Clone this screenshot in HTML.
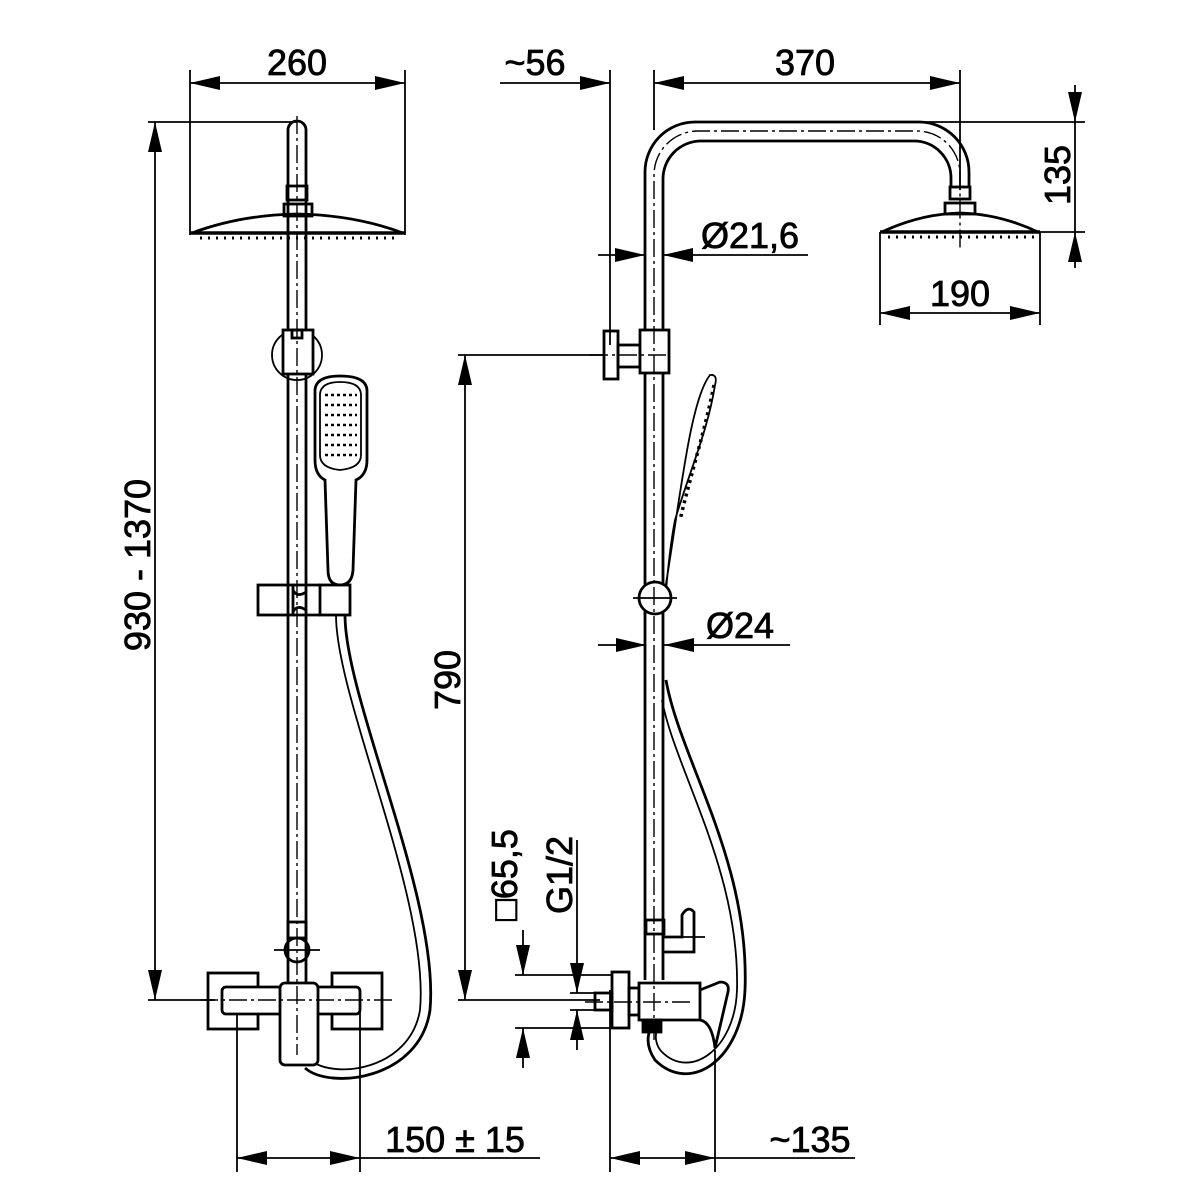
<!DOCTYPE html>
<html><head><meta charset="utf-8"><style>html,body{margin:0;padding:0;background:#fff}svg{display:block}text{font-family:"Liberation Sans",Arial,sans-serif;font-size:36px;fill:#000;stroke:#000;stroke-width:0.8px}</style></head><body>
<svg width="1200" height="1200" viewBox="0 0 1200 1200" xmlns="http://www.w3.org/2000/svg">
<defs>
<marker id="a" viewBox="0 0 30 14" refX="30" refY="7" markerWidth="30" markerHeight="14" markerUnits="userSpaceOnUse" orient="auto"><path d="M0,0L30,7L0,14z" fill="#000"/></marker>
</defs>
<g stroke="#000" fill="none" stroke-width="1.8">
<line x1="190" y1="70" x2="190" y2="235"/><line x1="405" y1="70" x2="405" y2="235"/>
<line x1="297" y1="83" x2="190" y2="83" marker-end="url(#a)"/><line x1="297" y1="83" x2="405" y2="83" marker-end="url(#a)"/>
<line x1="148" y1="122" x2="297" y2="122"/><line x1="148" y1="1000" x2="215" y2="1000"/>
<line x1="155" y1="560" x2="155" y2="122" marker-end="url(#a)"/><line x1="155" y1="560" x2="155" y2="1000" marker-end="url(#a)"/>
<line x1="237" y1="990" x2="237" y2="1172"/><line x1="360" y1="990" x2="360" y2="1172"/>
<line x1="300" y1="1158" x2="237" y2="1158" marker-end="url(#a)"/><line x1="300" y1="1158" x2="360" y2="1158" marker-end="url(#a)"/><line x1="360" y1="1158" x2="540" y2="1158"/>
<g stroke-width="2.8">
<path d="M288,1000 V130 A9,9 0 0 1 306,130 V985"/>
<rect x="287" y="186" width="20" height="14"/>
<rect x="284" y="204" width="28" height="12"/>
<path d="M192,233 Q240,215 297,214 Q355,215 403,233 Z"/>
<line x1="190" y1="233" x2="405" y2="233" stroke-width="3.5"/>
<circle cx="297" cy="355" r="25" stroke-width="1.8"/>
<rect x="283" y="330" width="30" height="44" fill="#fff"/>
<rect x="292" y="330" width="10" height="8"/>
<path d="M315,390 Q316,376 340,376 Q366,376 367,390 V460 Q367,475 356,480 L353,570 Q352,585 340,585 Q328,585 328,570 L325,480 Q315,475 315,460 Z"/>
<path d="M320,394 Q321,382 340,382 Q360,382 361,394 V455 Q361,468 340,470 Q320,468 320,455 Z" stroke-width="1.8"/>
<rect x="258" y="585" width="35" height="30"/><rect x="320" y="585" width="30" height="30"/>
<path d="M293,590 Q297,598 306,592 M293,612 Q297,604 306,610"/>
<line x1="293" y1="585" x2="320" y2="585"/><line x1="293" y1="615" x2="320" y2="615"/>
<path d="M345,615 C345,700 440,900 430,1010 C420,1080 330,1090 305,1068"/>
<path d="M336,615 C336,700 430,900 420,1010 C410,1070 335,1080 310,1060" stroke-width="1.8"/>
<rect x="288" y="922" width="18" height="16"/>
<circle cx="297" cy="950" r="12"/>
<rect x="208" y="973" width="50" height="56"/><rect x="332" y="973" width="50" height="56"/>
<rect x="222" y="987" width="138" height="27" rx="4" fill="#fff"/>
<rect x="280" y="983" width="38" height="82" rx="5" fill="#fff"/>
</g>
<g stroke-width="1.4" stroke-dasharray="18,4,3,4">
<line x1="297" y1="116" x2="297" y2="1055"/>
<line x1="200" y1="1000" x2="395" y2="1000"/>
</g>
<line x1="274" y1="950" x2="320" y2="950"/>
<g stroke-width="3" stroke-dasharray="2,6"><line x1="200" y1="238" x2="396" y2="238"/></g>
<g stroke-width="2.5" stroke-dasharray="3,3"><line x1="325" y1="395" x2="357" y2="395"/><line x1="325" y1="405" x2="357" y2="405"/><line x1="325" y1="415" x2="357" y2="415"/><line x1="325" y1="425" x2="357" y2="425"/><line x1="325" y1="435" x2="357" y2="435"/><line x1="325" y1="445" x2="357" y2="445"/><line x1="325" y1="455" x2="357" y2="455"/></g>
<line x1="500" y1="83" x2="610" y2="83" marker-end="url(#a)"/>
<line x1="610" y1="70" x2="610" y2="345"/><line x1="654" y1="70" x2="654" y2="130"/><line x1="960" y1="70" x2="960" y2="190"/>
<line x1="800" y1="83" x2="654" y2="83" marker-end="url(#a)"/><line x1="800" y1="83" x2="960" y2="83" marker-end="url(#a)"/>
<line x1="690" y1="122" x2="1085" y2="122"/><line x1="1040" y1="232" x2="1085" y2="232"/>
<line x1="1075" y1="85" x2="1075" y2="122" marker-end="url(#a)"/><line x1="1075" y1="268" x2="1075" y2="232" marker-end="url(#a)"/><line x1="1075" y1="122" x2="1075" y2="232"/>
<line x1="880" y1="232" x2="880" y2="325"/><line x1="1040" y1="232" x2="1040" y2="325"/>
<line x1="960" y1="313" x2="880" y2="313" marker-end="url(#a)"/><line x1="960" y1="313" x2="1040" y2="313" marker-end="url(#a)"/>
<line x1="598" y1="255" x2="645" y2="255" marker-end="url(#a)"/><line x1="808" y1="255" x2="663" y2="255" marker-end="url(#a)"/>
<line x1="598" y1="645" x2="646" y2="645" marker-end="url(#a)"/><line x1="790" y1="645" x2="664" y2="645" marker-end="url(#a)"/>
<line x1="458" y1="355" x2="604" y2="355"/><line x1="458" y1="1000" x2="600" y2="1000"/>
<line x1="465" y1="680" x2="465" y2="355" marker-end="url(#a)"/><line x1="465" y1="680" x2="465" y2="1000" marker-end="url(#a)"/>
<line x1="515" y1="975" x2="612" y2="975"/><line x1="515" y1="1028" x2="612" y2="1028"/>
<line x1="523" y1="930" x2="523" y2="975" marker-end="url(#a)"/><line x1="523" y1="1068" x2="523" y2="1028" marker-end="url(#a)"/>
<line x1="577" y1="840" x2="577" y2="993" marker-end="url(#a)"/><line x1="577" y1="1050" x2="577" y2="1010" marker-end="url(#a)"/>
<line x1="570" y1="993" x2="595" y2="993"/><line x1="570" y1="1010" x2="595" y2="1010"/>
<line x1="610" y1="990" x2="610" y2="1172"/><line x1="715" y1="1050" x2="715" y2="1172"/>
<line x1="660" y1="1158" x2="610" y2="1158" marker-end="url(#a)"/><line x1="660" y1="1158" x2="715" y2="1158" marker-end="url(#a)"/><line x1="715" y1="1158" x2="855" y2="1158"/>
<g stroke-width="2.8">
<path d="M645,980 V172 A50,50 0 0 1 695,122 H920 A50,50 0 0 1 969,172 V187"/>
<path d="M663,980 V180 A38,38 0 0 1 701,141 H914 A37,37 0 0 1 951,178 V187"/>
<rect x="950" y="187" width="20" height="12"/>
<rect x="945" y="203" width="30" height="11"/>
<path d="M882,232 Q920,214 960,213 Q1000,214 1038,232 Z"/>
<line x1="880" y1="232" x2="1040" y2="232" stroke-width="3.5"/>
<rect x="604" y="331" width="14" height="48"/>
<rect x="618" y="345" width="22" height="22"/>
<rect x="640" y="330" width="29" height="43" fill="#fff"/>
<path d="M665,590 C680,500 690,400 710,375 Q718,374 715,385 C708,430 690,470 675,520 C670,545 668,570 666,590" stroke-width="1.8"/>
<circle cx="655" cy="598" r="16" fill="#fff"/>
<path d="M666,680 C680,760 750,860 745,990 C742,1060 690,1095 655,1060 C645,1045 648,1035 650,1030" />
<path d="M662,700 C675,770 740,870 737,990 C735,1050 690,1080 662,1052 C655,1045 655,1035 657,1030" stroke-width="1.8"/>
<rect x="646" y="920" width="18" height="14"/>
<path d="M664,937 H682 V915 Q688,905 694,912 V952 H664"/>
<rect x="595" y="993" width="17" height="17"/>
<rect x="612" y="972" width="17" height="56"/>
<rect x="629" y="988" width="10" height="27"/>
<path d="M639,983 H700 V1020 H639 Z" fill="#fff"/>
<path d="M700,990 L720,982 Q730,982 728,992 L715,1048 Q712,1022 700,1020"/>
<rect x="643" y="1020" width="18" height="12" fill="#000"/>
</g>
<g stroke-width="1.4" stroke-dasharray="18,4,3,4">
<path d="M654,1040 V175 A44,44 0 0 1 698,131 H917 A43,43 0 0 1 960,174 V250"/>
<line x1="585" y1="1002" x2="690" y2="1002"/>
<line x1="590" y1="355" x2="670" y2="355"/>
</g>
<line x1="633" y1="598" x2="677" y2="598"/>
<line x1="672" y1="937" x2="705" y2="937"/>
<g stroke-width="3" stroke-dasharray="2,6"><line x1="888" y1="237" x2="1034" y2="237"/></g>
<g stroke-width="3.5" stroke-dasharray="3,4"><path d="M714,385 C705,430 692,470 680,520"/></g>
</g>
<text x="297" y="75" text-anchor="middle">260</text>
<text x="535" y="75" text-anchor="middle">~56</text>
<text x="805" y="75" text-anchor="middle">370</text>
<text x="960" y="306" text-anchor="middle">190</text>
<text x="750" y="248" text-anchor="middle">Ø21,6</text>
<text x="740" y="638" text-anchor="middle">Ø24</text>
<text x="455" y="1152" text-anchor="middle">150 ±  15</text>
<text x="810" y="1152" text-anchor="middle">~135</text>
<text transform="translate(150,565) rotate(-90)" text-anchor="middle">930 - 1370</text>
<text transform="translate(460,680) rotate(-90)" text-anchor="middle">790</text>
<text transform="translate(1070,175) rotate(-90)" text-anchor="middle">135</text>
<text transform="translate(517,875) rotate(-90)" text-anchor="middle">□65,5</text>
<text transform="translate(572,875) rotate(-90)" text-anchor="middle">G1/2</text>
</svg>
</body></html>
